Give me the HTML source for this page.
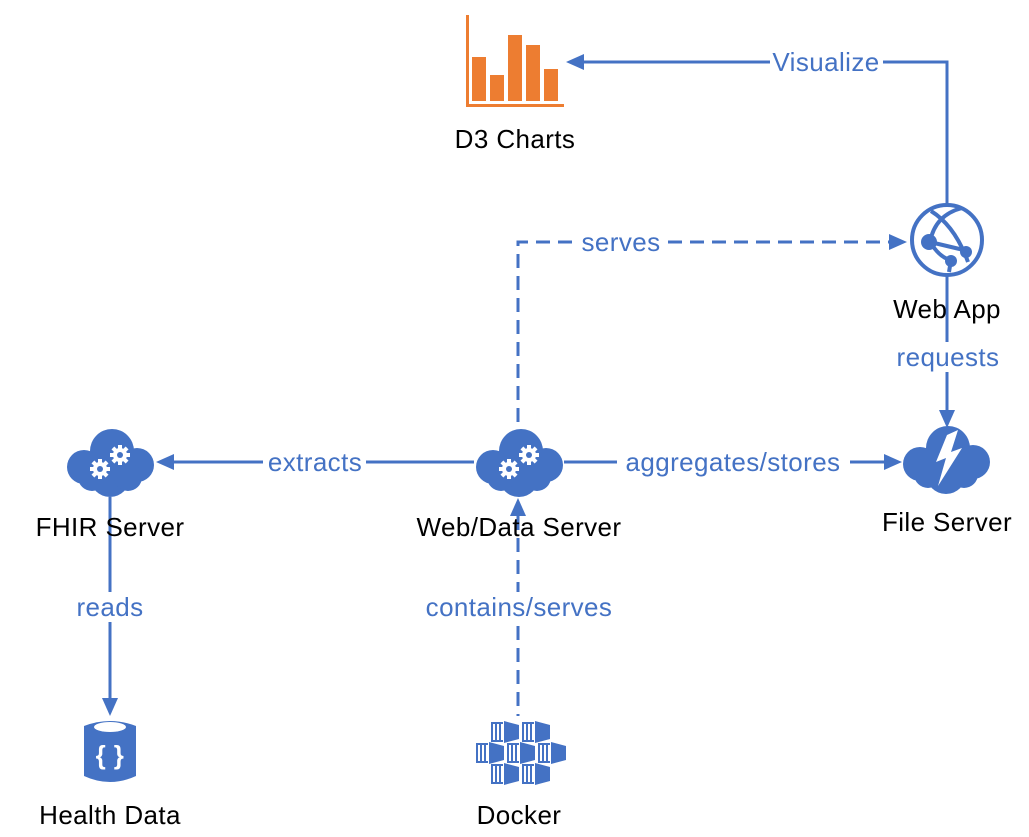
<!DOCTYPE html>
<html><head><meta charset="utf-8"><style>
html,body{margin:0;padding:0;background:#fff;}
svg{display:block;}
text{font-family:"Liberation Sans",sans-serif;font-size:26px;letter-spacing:0.4px;}
.b{fill:#4472C4;text-anchor:middle;}
.k{fill:#000;text-anchor:middle;}
</style></head><body>
<svg width="1029" height="837" viewBox="0 0 1029 837" xmlns="http://www.w3.org/2000/svg">
<defs>
<g id="ctr">
  <rect x="0" y="0" width="2" height="20" fill="#4472C4"/>
  <rect x="4" y="0" width="2" height="20" fill="#4472C4"/>
  <rect x="8" y="0" width="2" height="20" fill="#4472C4"/>
  <rect x="0" y="0" width="12" height="2" fill="#4472C4"/>
  <rect x="0" y="18" width="12" height="2" fill="#4472C4"/>
  <polygon points="13,-1 28,3 28,17 13,21" fill="#4472C4"/>
</g>
<g id="cloud" fill="#4472C4">
  <circle cx="2" cy="-14" r="22"/>
  <circle cx="-26" cy="2" r="17"/>
  <circle cx="27" cy="0" r="17"/>
  <circle cx="0" cy="12" r="20"/>
  <rect x="-26" y="-2" width="52" height="22"/>
  <circle cx="-18" cy="12" r="14"/>
  <circle cx="18" cy="12" r="14"/>
</g>
<g id="gear">
  <circle r="7" fill="#fff"/>
  <g fill="#fff">
    <rect x="-2" y="-10" width="4" height="20"/>
    <rect x="-10" y="-2" width="20" height="4"/>
    <rect x="-2" y="-10" width="4" height="20" transform="rotate(45)"/>
    <rect x="-2" y="-10" width="4" height="20" transform="rotate(-45)"/>
  </g>
  <circle r="3" fill="#4472C4"/>
</g>
<g id="srv">
  <use href="#cloud"/>
  <use href="#gear" x="-10" y="4"/>
  <use href="#gear" x="10" y="-10"/>
</g>
</defs>

<!-- connectors -->
<g stroke="#4472C4" stroke-width="3" fill="none">
  <polyline points="947,205 947,62 583,62"/>
  <polyline points="518,422 518,242 893,242" stroke-dasharray="14,8"/>
  <line x1="518" y1="516" x2="518" y2="716" stroke-dasharray="14,8"/>
  <line x1="947" y1="276" x2="947" y2="412"/>
  <line x1="474" y1="462" x2="172" y2="462"/>
  <line x1="564" y1="462" x2="886" y2="462"/>
  <line x1="110" y1="497" x2="110" y2="700"/>
</g>

<!-- label backgrounds -->
<g fill="#fff">
  <rect x="770" y="48" width="113" height="28"/>
  <rect x="580" y="228" width="82" height="28"/>
  <rect x="893" y="342" width="110" height="30"/>
  <rect x="263" y="448" width="103" height="28"/>
  <rect x="617" y="448" width="233" height="28"/>
  <rect x="74" y="592" width="71" height="30"/>
  <rect x="417" y="592" width="204" height="30"/>
</g>

<g fill="#4472C4">
  <polygon points="566,62 584,54 584,70"/>
  <polygon points="907,242 889,234 889,250"/>
  <polygon points="947,428 939,410 955,410"/>
  <polygon points="156,462 174,454 174,470"/>
  <polygon points="902,462 884,454 884,470"/>
  <polygon points="110,716 102,698 118,698"/>
</g>

<!-- D3 chart icon -->
<g fill="#ED7D31">
  <rect x="466" y="15" width="3" height="92"/>
  <rect x="466" y="104" width="98" height="3"/>
  <rect x="472" y="57" width="14" height="44"/>
  <rect x="490" y="75" width="14" height="26"/>
  <rect x="508" y="35" width="14" height="66"/>
  <rect x="526" y="45" width="14" height="56"/>
  <rect x="544" y="69" width="14" height="32"/>
</g>

<!-- Web app icon -->
<g stroke="#4472C4" stroke-width="4" fill="none">
  <circle cx="947" cy="240" r="35"/>
  <path d="M931,211 Q955,226 968,262"/>
  <path d="M930,242 Q935,215 962,208"/>
  <path d="M930,242 L968,251"/>
  <path d="M930,242 Q940,258 951,260"/>
  <path d="M951,260 L949,272"/>
</g>
<g fill="#4472C4">
  <circle cx="929" cy="242" r="8"/>
  <circle cx="966" cy="252" r="6"/>
  <circle cx="951" cy="261" r="6"/>
</g>

<!-- File server cloud -->
<use href="#cloud" x="946" y="462"/>
<polygon points="947,435 958,430 951,452 962,448 938,486 946,458 936,462" fill="#fff"/>

<!-- Servers -->
<use href="#srv" x="110" y="465"/>
<use href="#srv" x="519" y="465"/>
<polygon points="518,498 510,516 526,516" fill="#4472C4"/>

<!-- Health data cylinder -->
<path d="M84,726 Q110,716 136,726 L136,776 Q110,788 84,776 Z" fill="#4472C4"/>
<ellipse cx="110" cy="727" rx="16" ry="5" fill="#fff"/>
<text x="110" y="764" style="font-size:26px;font-weight:bold" fill="#fff" text-anchor="middle">{ }</text>

<!-- Docker -->
<use href="#ctr" x="491" y="722"/>
<use href="#ctr" x="522" y="722"/>
<use href="#ctr" x="476" y="743"/>
<use href="#ctr" x="507" y="743"/>
<use href="#ctr" x="538" y="743"/>
<use href="#ctr" x="491" y="764"/>
<use href="#ctr" x="522" y="764"/>

<!-- labels -->
<text class="b" x="826" y="71">Visualize</text>
<text class="b" x="621" y="251">serves</text>
<text class="b" x="948" y="366">requests</text>
<text class="b" x="315" y="471">extracts</text>
<text class="b" x="733" y="471">aggregates/stores</text>
<text class="b" x="110" y="616">reads</text>
<text class="b" x="519" y="616">contains/serves</text>

<text class="k" x="515" y="148">D3 Charts</text>
<text class="k" x="947" y="318">Web App</text>
<text class="k" x="947" y="531">File Server</text>
<text class="k" x="519" y="536">Web/Data Server</text>
<text class="k" x="110" y="536">FHIR Server</text>
<text class="k" x="110" y="824">Health Data</text>
<text class="k" x="519" y="824">Docker</text>
</svg>
</body></html>
